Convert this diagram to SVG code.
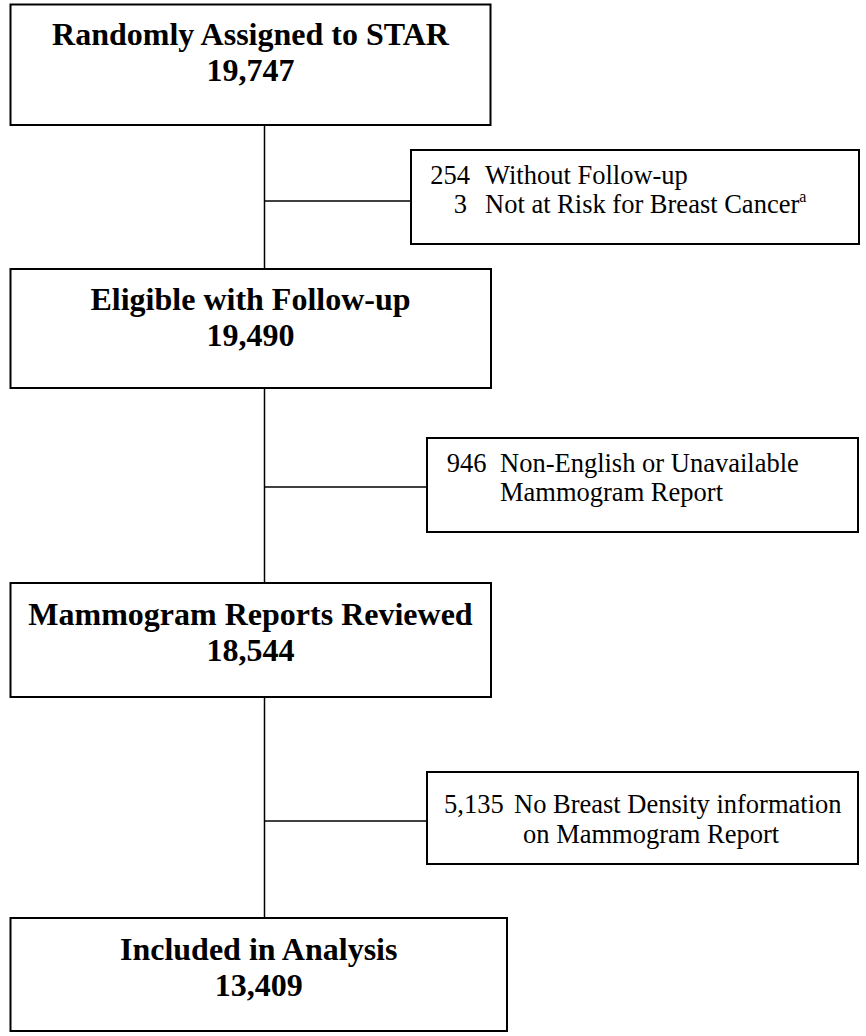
<svg xmlns="http://www.w3.org/2000/svg" width="866" height="1036" viewBox="0 0 866 1036">
<style>
.box{fill:#fff;stroke:#000;stroke-width:2}
.conn{stroke:#000;stroke-width:1.5;fill:none}
.main{font-family:"Liberation Serif","Times New Roman",serif;font-weight:bold;font-size:32px;text-anchor:middle;fill:#000}
.side{font-family:"Liberation Serif","Times New Roman",serif;font-size:26.5px;fill:#000}
.num{text-anchor:end}
</style>
<rect width="866" height="1036" fill="#fff"/>
<g id="connectors">
<line class="conn" x1="264.5" y1="125" x2="264.5" y2="269"/>
<line class="conn" x1="264.5" y1="201" x2="411" y2="201"/>
<line class="conn" x1="264.5" y1="388" x2="264.5" y2="583"/>
<line class="conn" x1="264.5" y1="487" x2="427" y2="487"/>
<line class="conn" x1="264.5" y1="697" x2="264.5" y2="918"/>
<line class="conn" x1="264.5" y1="821" x2="427" y2="821"/>
</g>
<g id="n1">
<rect class="box" x="10.5" y="4.5" width="480" height="120.5"/>
<text class="main" x="250.5" y="45">Randomly Assigned to STAR</text>
<text class="main" x="250.5" y="81">19,747</text>
</g>
<g id="x1">
<rect class="box" x="411" y="150" width="448" height="94"/>
<text class="side num" x="470" y="184">254</text>
<text class="side" x="485" y="184">Without Follow-up</text>
<text class="side num" x="467" y="213">3</text>
<text class="side" x="485" y="213">Not at Risk for Breast Cancer<tspan font-size="16" dy="-11">a</tspan></text>
</g>
<g id="n2">
<rect class="box" x="10.5" y="269" width="480.5" height="119"/>
<text class="main" x="250.5" y="310">Eligible with Follow-up</text>
<text class="main" x="250.5" y="346">19,490</text>
</g>
<g id="x2">
<rect class="box" x="427" y="438" width="431" height="94"/>
<text class="side" x="446.7" y="472">946</text>
<text class="side" x="500" y="472">Non-English or Unavailable</text>
<text class="side" x="500" y="501">Mammogram Report</text>
</g>
<g id="n3">
<rect class="box" x="10.5" y="583" width="480.5" height="114"/>
<text class="main" x="250.5" y="625">Mammogram Reports Reviewed</text>
<text class="main" x="250.5" y="661">18,544</text>
</g>
<g id="x3">
<rect class="box" x="427" y="772" width="431" height="92"/>
<text class="side" x="444" y="813">5,135</text>
<text class="side" x="514" y="813">No Breast Density information</text>
<text class="side" x="523" y="843">on Mammogram Report</text>
</g>
<g id="n4">
<rect class="box" x="10.5" y="918" width="496.5" height="113"/>
<text class="main" x="258.7" y="960">Included in Analysis</text>
<text class="main" x="258.7" y="996">13,409</text>
</g>
</svg>
